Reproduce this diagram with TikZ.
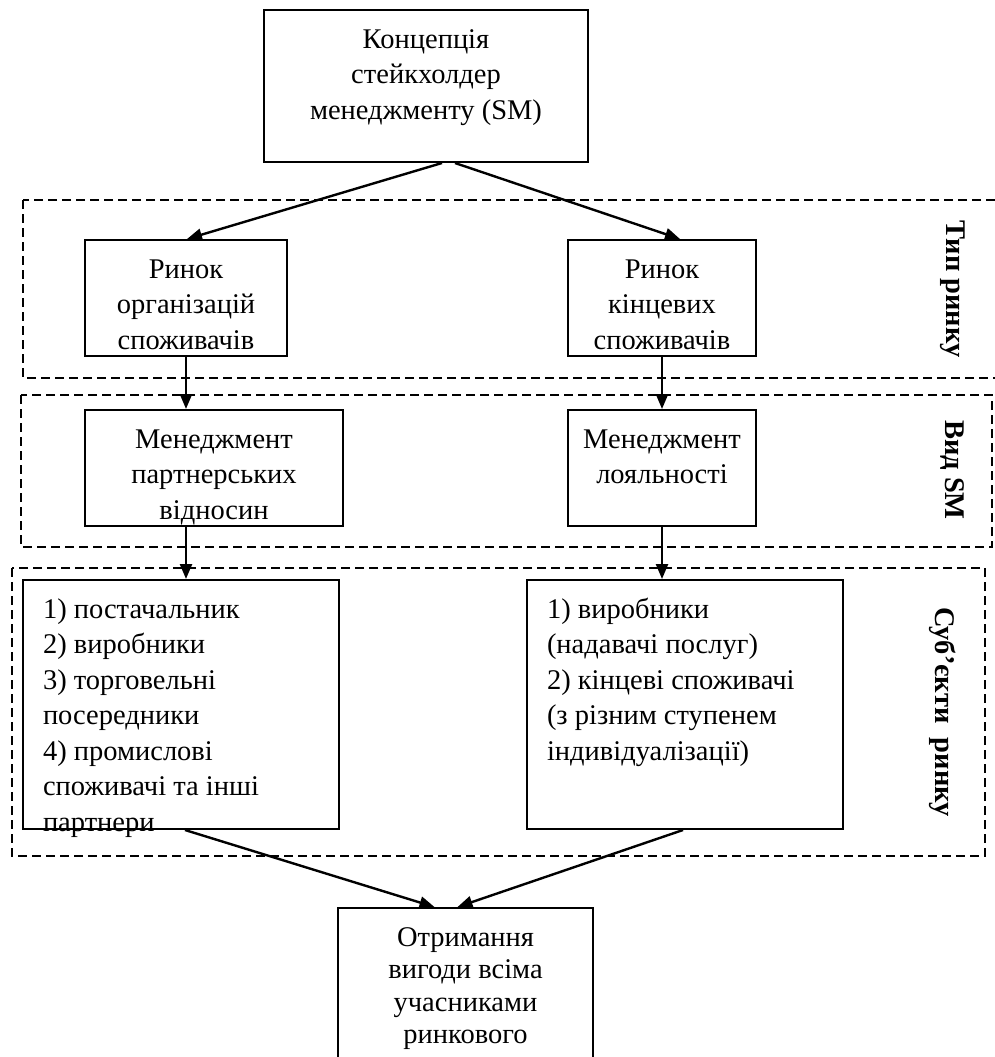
\documentclass[tikz,border=0pt]{standalone}
\usepackage{fontspec}
\setmainfont{Liberation Serif}
\usetikzlibrary{arrows.meta}

% text block inside a box, first line kept at a fixed depth from the top
\newcommand{\boxtext}[4]{\parbox[c][#2][t]{#1}{#3\rule{0pt}{\firstLine}#4}}

\begin{document}
\begin{tikzpicture}[x=1pt, y=-1pt,
        every node/.style={font=\fontsize{28.5}{35.5}\selectfont},
        box/.style={draw, line width=2pt, inner ysep=0pt, inner xsep=10pt},
        zone/.style={draw, line width=1.7pt, dash pattern=on 9pt off 5pt},
        arr/.style={-{Triangle[length=15pt, width=12pt]}, line width=2.4pt},
        zonelabel/.style={rotate=-90, font=\fontsize{28.5}{32}\selectfont\bfseries}]

    \def\firstLine{38pt}
    \def\listIndent{\raggedright\leftskip=10pt}

    \useasboundingbox (0,0) rectangle (995,1057);
    \clip (0,0) rectangle (995,1057);

    % zones
    \draw[zone] (23,200) rectangle (1010,378);
    \draw[zone] (21,395) rectangle (992,547);
    \draw[zone] (12,568) rectangle (985,856);

    % zone labels
    \node[zonelabel] (lblMarket) at (953,289) {Тип ринку};
    \node[zonelabel] (lblSM) at (952,470) {Вид SM};
    \node[zonelabel] (lblSubj) at (943,712) {Суб’єкти\ \ ринку};

    % concept
    \node[box] (concept) at (426,86)
        {\boxtext{304pt}{152pt}{\centering}{Концепція\\стейкхолдер\\менеджменту (SM)}};

    % market type
    \node[box] (market1) at (186,298)
        {\boxtext{182pt}{116pt}{\centering}{Ринок\\організацій\\споживачів}};
    \node[box] (market2) at (662,298)
        {\boxtext{168pt}{116pt}{\centering}{Ринок\\кінцевих\\споживачів}};

    % kind of SM
    \node[box] (mgmt1) at (214,468)
        {\boxtext{238pt}{116pt}{\centering}{Менеджмент\\партнерських\\відносин}};
    \node[box] (mgmt2) at (662,468)
        {\boxtext{168pt}{116pt}{\centering}{Менеджмент\\лояльності}};

    % market subjects
    \node[box] (list1) at (181,704.5)
        {\boxtext{296pt}{249pt}{\listIndent}{1) постачальник\\2) виробники\\3) торговельні\\посередники\\4) промислові\\споживачі та інші\\партнери}};
    \node[box] (list2) at (685,704.5)
        {\boxtext{296pt}{249pt}{\listIndent}{1) виробники\\(надавачі послуг)\\2) кінцеві споживачі\\(з різним ступенем\\індивідуалізації)}};

    % result
    \node[box, font=\fontsize{28.5}{32.5}\selectfont] (result) at (465.5,1009)
        {\boxtext{235pt}{202pt}{\centering}{Отримання\\вигоди всіма\\учасниками\\ринкового}};

    % arrows
    \draw[arr] ([xshift=16pt]concept.south) -- ([xshift=1pt]market1.north);
    \draw[arr] ([xshift=29pt]concept.south) -- ([xshift=18pt]market2.north);
    \draw[arr] (market1.south) -- (market1.south |- mgmt1.north);
    \draw[arr] (market2.south) -- (mgmt2.north);
    \draw[arr] (mgmt1.south -| market1) -- (list1.north -| market1);
    \draw[arr] (mgmt2.south) -- (mgmt2.south |- list2.north);
    \draw[arr] ([xshift=4pt]list1.south) -- ([xshift=-31pt]result.north);
    \draw[arr] ([xshift=-2pt]list2.south) -- ([xshift=-8pt]result.north);

\end{tikzpicture}
\end{document}
